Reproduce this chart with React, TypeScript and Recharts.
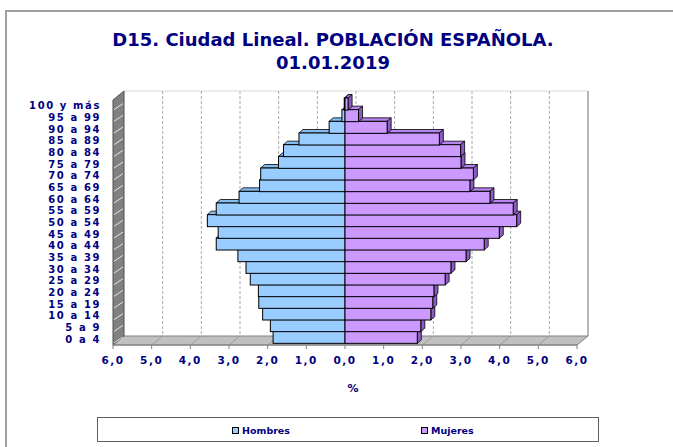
import { BarChart, Bar, XAxis, YAxis, Legend } from 'recharts';

const edades = [
  '0 a 4', '5 a 9', '10 a 14', '15 a 19', '20 a 24', '25 a 29', '30 a 34',
  '35 a 39', '40 a 44', '45 a 49', '50 a 54', '55 a 59', '60 a 64', '65 a 69',
  '70 a 74', '75 a 79', '80 a 84', '85 a 89', '90 a 94', '95 a 99', '100 y más',
];
const hombres = [
  1.86, 1.93, 2.13, 2.23, 2.24, 2.45, 2.56, 2.77, 3.33, 3.28, 3.56,
  3.33, 2.74, 2.21, 2.18, 1.72, 1.59, 1.19, 0.41, 0.08, 0.02,
];
const mujeres = [
  1.87, 1.96, 2.22, 2.27, 2.3, 2.59, 2.74, 3.13, 3.6, 3.99, 4.44,
  4.35, 3.75, 3.23, 3.32, 3.0, 2.99, 2.44, 1.09, 0.35, 0.08,
];
const xTicks = [-6, -5, -4, -3, -2, -1, 0, 1, 2, 3, 4, 5, 6];

const data = edades.map((edad, i) => ({ edad, hombres: -hombres[i], mujeres: mujeres[i] }));

// plot geometry (3D box drawn behind the recharts svg)
const W = 673;
const H = 447;
const PL = 113;
const PR = 577;
const PT = 100;
const PB = 345;
const DX = 11;
const DY = 9;
const NAVY = '#000080';
const FONT = '"DejaVu Sans", Verdana, sans-serif';

const px = (v: number) => PL + ((v + 6) / 12) * (PR - PL);

function Bar3D(props: any) {
  const { x, y, width, height, fill, dataKey } = props;
  const w = Math.abs(width);
  const x0 = width < 0 ? x + width : x;
  const yy = y - 2;
  const d = 4;
  const e = 3.5;
  const female = dataKey === 'mujeres';
  const top = female ? '#b684ee' : '#84bdf2';
  const side = female ? '#8c5cc4' : '#6aa2d8';
  return (
    <g>
      <polygon
        points={`${x0},${yy} ${x0 + d},${yy - e} ${x0 + w + d},${yy - e} ${x0 + w},${yy}`}
        fill={top}
        stroke="#000"
        strokeWidth={0.8}
      />
      {female && (
        <polygon
          points={`${x0 + w},${yy} ${x0 + w + d},${yy - e} ${x0 + w + d},${yy + height - e} ${x0 + w},${yy + height}`}
          fill={side}
          stroke="#000"
          strokeWidth={0.8}
        />
      )}
      <rect x={x0} y={yy} width={w} height={height} fill={fill} stroke="#000" strokeWidth={1} />
    </g>
  );
}

function Box3D() {
  const rowH = (PB - PT) / edades.length;
  const grid = xTicks.filter((t) => Math.abs(t) < 6);
  return (
    <svg width={W} height={H} style={{ position: 'absolute', left: 0, top: 0 }}>
      <line x1={PL + DX} y1={PT - DY} x2={PR + DX} y2={PT - DY} stroke="#d8d8d8" />
      <line x1={PR + DX} y1={PT - DY} x2={PR + DX} y2={PB - DY} stroke="#a0a0a0" strokeWidth={1.5} />
      {grid.map((t) => (
        <line
          key={t}
          x1={px(t) + DX}
          y1={PT - DY}
          x2={px(t) + DX}
          y2={PB - DY}
          stroke="#a8a8a8"
          strokeDasharray="3 2"
        />
      ))}
      <polygon
        points={`${PL},${PB} ${PR},${PB} ${PR + DX},${PB - DY} ${PL + DX},${PB - DY}`}
        fill="#c0c0c0"
        stroke="#808080"
      />
      {grid.map((t) => (
        <line key={'f' + t} x1={px(t)} y1={PB} x2={px(t) + DX} y2={PB - DY} stroke="#9a9a9a" />
      ))}
      <polygon
        points={`${PL},${PT} ${PL + DX},${PT - DY} ${PL + DX},${PB - DY} ${PL},${PB}`}
        fill="#808080"
        stroke="#505050"
      />
      {edades.map((_, k) => (
        <line
          key={'h' + k}
          x1={PL + 1}
          y1={PB - k * rowH - 2}
          x2={PL + DX - 1}
          y2={PB - k * rowH - DY + 1}
          stroke="#fff"
          strokeWidth={0.8}
        />
      ))}
    </svg>
  );
}

const yTickStyle = { fill: NAVY, fontSize: 10, fontWeight: 700, fontFamily: FONT, letterSpacing: 1.6 };
const xTickStyle = { fill: NAVY, fontSize: 10.5, fontWeight: 700, fontFamily: FONT, letterSpacing: 1.5 };

const renderLegend = (props: any) => {
  const pos = [134, 323];
  return (
    <div style={{ position: 'relative', width: '100%', height: '100%' }}>
      {(props.payload || []).map((p: any, i: number) => (
        <div
          key={p.value}
          style={{
            position: 'absolute',
            left: pos[i],
            top: 7,
            display: 'flex',
            alignItems: 'center',
            fontFamily: FONT,
            fontWeight: 700,
            fontSize: 9.5,
            color: NAVY,
          }}
        >
          <span
            style={{
              display: 'inline-block',
              width: 5,
              height: 5,
              background: p.color,
              border: '1px solid #000',
              marginRight: 3,
            }}
          />
          {p.value}
        </div>
      ))}
    </div>
  );
};

export default function App() {
  return (
    <div
      style={{
        position: 'absolute',
        left: 0,
        top: 0,
        width: W,
        height: H,
        overflow: 'hidden',
        background: '#fff',
      }}
    >
      <div
        style={{
          position: 'absolute',
          left: 5,
          top: 10,
          width: 700,
          height: 500,
          borderLeft: '2px solid #a0a0a0',
          borderTop: '2px solid #a0a0a0',
        }}
      />
      <div
        style={{
          position: 'absolute',
          left: 0,
          top: 28,
          width: 666,
          textAlign: 'center',
          fontFamily: FONT,
          fontWeight: 700,
          fontSize: 18,
          lineHeight: '23px',
          color: NAVY,
        }}
      >
        D15. Ciudad Lineal. POBLACIÓN ESPAÑOLA.
        <br />
        01.01.2019
      </div>
      <Box3D />
      <div style={{ position: 'absolute', left: 0, top: 0 }}>
        <BarChart
          width={W}
          height={H}
          data={data}
          layout="vertical"
          stackOffset="sign"
          barCategoryGap={0}
          margin={{ top: PT, right: W - PR, bottom: H - PB - 30, left: 8 }}
        >
          <XAxis
            type="number"
            domain={[-6, 6]}
            ticks={xTicks}
            allowDataOverflow
            height={30}
            tickSize={4}
            tickMargin={8}
            stroke="#808080"
            tick={xTickStyle}
            tickFormatter={(v: number) => Math.abs(v).toFixed(1).replace('.', ',')}
            label={{
              value: '%',
              position: 'bottom',
              offset: 9,
              dx: 8,
              fill: NAVY,
              fontSize: 11,
              fontWeight: 700,
              fontFamily: FONT,
            }}
          />
          <YAxis
            type="category"
            dataKey="edad"
            reversed
            width={PL - 8}
            axisLine={false}
            tickLine={false}
            tickSize={0}
            tickMargin={12}
            interval={0}
            tick={yTickStyle}
          />
          <Legend
            layout="horizontal"
            verticalAlign="middle"
            content={renderLegend}
            wrapperStyle={{
              left: 97,
              top: 417,
              width: 502,
              height: 25,
              border: '1px solid #606060',
              boxSizing: 'border-box',
            }}
          />
          <Bar
            dataKey="hombres"
            name="Hombres"
            stackId="a"
            fill="#99ccff"
            shape={Bar3D}
            isAnimationActive={false}
          />
          <Bar
            dataKey="mujeres"
            name="Mujeres"
            stackId="a"
            fill="#cc99ff"
            shape={Bar3D}
            isAnimationActive={false}
          />
        </BarChart>
      </div>
    </div>
  );
}
